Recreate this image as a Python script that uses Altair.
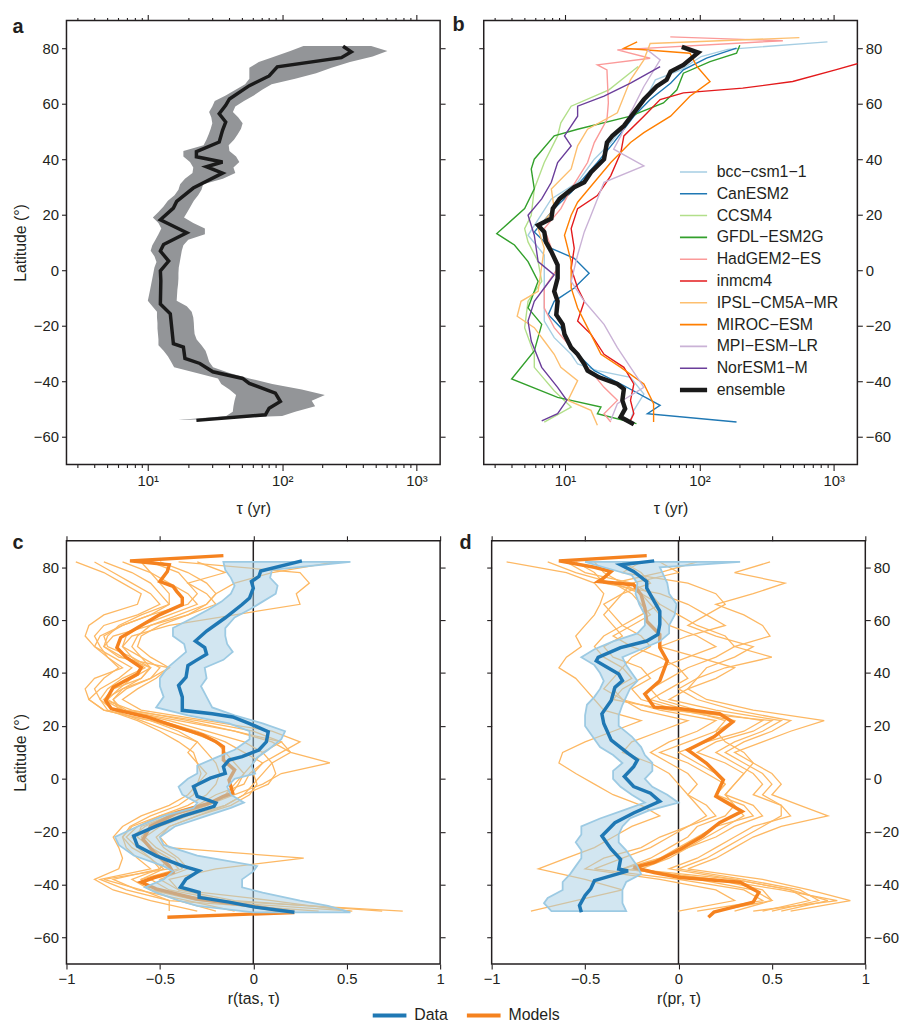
import altair as alt
import pandas as pd

FONT = "Liberation Sans"
INK = "#231f20"

LAT_DOMAIN = [-70, 90]
LAT_TICKS = [-60, -40, -20, 0, 20, 40, 60, 80]
TAU_DOMAIN = [2.48, 1500]
TAU_MAJOR = [10, 100, 1000]
TAU_MINOR = [3, 4, 5, 6, 7, 8, 9, 20, 30, 40, 50, 60, 70, 80, 90,
             200, 300, 400, 500, 600, 700, 800, 900]
R_DOMAIN = [-1, 1]
R_TICKS = [-1, -0.5, 0, 0.5, 1]

# ---- panel a: observed tau and its uncertainty band ----
A_LAT = [80.7, 78.7, 76.6, 73.3, 70.0, 66.5, 61.7, 59.4, 56.4, 53.4, 50.4, 46.2, 42.7, 40.9,
         39.0, 37.3, 35.0, 29.6, 24.8, 22.4, 18.2, 13.5, 9.3, 6.9, 3.3, -0.2, -3.8, -12.2,
         -15.7, -26.5, -27.7, -31.8, -33.6, -36.6, -39.0, -40.8, -44.3, -47.3, -49.7, -52.1, -54.1]
A_TAU = [284, 327, 276, 92, 80, 57, 40.5, 38, 34, 38, 36, 34, 23, 23,
         36, 27.3, 36, 21.8, 16.4, 15.5, 12.4, 19.5, 13.1, 12.4, 14.3, 12.4, 12.5, 12.4,
         14.7, 15.5, 18.4, 18.9, 24.4, 30.5, 50.8, 56.9, 89, 97, 80, 75, 23]
A_BAND_LAT = [80.8, 79, 77, 75, 73, 71, 69, 67, 65, 63, 61, 59, 57, 55, 53, 51, 49, 47, 45, 43,
              41, 39, 37, 35, 33, 31, 29, 27, 25, 23, 21, 19, 17, 15, 13, 11, 9, 7, 5, 3,
              1, -1, -3, -5, -7, -9, -11, -13, -15, -17, -19, -21, -23, -25, -27, -29, -31, -33,
              -35, -37, -39, -41, -43, -45, -47, -49, -51, -52.5, -54]
A_BAND_LO = [144, 115, 88, 67, 57, 57, 57, 53, 45, 38, 31.5, 30.2, 28.6, 29.7, 30.2, 29.4, 28.4,
             27.3, 26.0, 18.4, 18.4, 20.6, 21.8, 21.5, 18.9, 17.4, 16.9, 15.8, 14.1, 13.1, 12.0,
             10.9, 12.0, 12.6, 12.0, 11.4, 10.8, 10.5, 11.2, 11.6, 11.2, 11.0, 10.8, 10.6, 10.4,
             10.2, 10.0, 10.8, 11.7, 11.7, 11.8, 11.8, 11.9, 12.0, 12.0, 13.1, 14.1, 14.9, 15.7,
             23.1, 33.3, 35.2, 40.5, 45.4, 44.2, 43.4, 42.9, 38.3, 16.9]
A_BAND_HI = [460, 608, 472, 320, 233, 179, 125, 83.5, 71, 61.5, 52, 44.8, 43, 47.2, 50.8, 49.4,
             46.7, 43.8, 40, 40.5, 45.4, 48, 43.4, 44.8, 36.2, 25.8, 25.1, 23.7, 22.0, 20.8, 19.7,
             18.6, 21.8, 26.6, 26.6, 20.0, 18.4, 17.9, 17.6, 17.3, 17.0, 16.9, 16.9, 16.8, 16.6,
             16.5, 16.4, 19.5, 21.2, 21.8, 22.0, 22.1, 22.3, 23.1, 25.1, 26.9, 27.8, 28.6, 30.6,
             40.5, 56.9, 84.4, 140, 208, 166, 176, 125, 100, 18.4]

# ---- panel b: tau in each model ----
B_NAMES = ["bcc−csm1−1", "CanESM2", "CCSM4", "GFDL−ESM2G", "HadGEM2−ES", "inmcm4",
           "IPSL−CM5A−MR", "MIROC−ESM", "MPI−ESM−LR", "NorESM1−M", "ensemble"]
B_COLORS = ["#a6cee3", "#1f78b4", "#b2df8a", "#33a02c", "#fb9a99", "#e31a1c",
            "#fdbf6f", "#ff7f00", "#cab2d6", "#6a3d9a", "#1a1a1a"]

BCC_LAT = [82.3, 79.6, 77.0, 72.2, 68.6, 61.5, 55.5, 46.0, 40.0, 31.7, 25.7, 19.8, 12.6, 5.5,
           -1.7, -11.2, -18.3, -24.3, -30.3, -33.8, -36.2, -38.6, -44.6, -50.5, -54.1]
BCC_TAU = [898, 163, 103, 73, 47, 39.5, 31, 22, 16.5, 12.4, 7.9, 6.6, 5.3, 7.0,
           7.0, 7.0, 7.0, 8.3, 11.1, 12.4, 17.4, 30.7, 38.6, 32.5, 30.7]
CAN_LAT = [80.0, 76.4, 72.2, 67.4, 61.5, 55.5, 46.0, 38.8, 28.1, 22.2, 13.8, 7.9, 4.3, -1.1,
           -6.4, -11.2, -16.0, -20.7, -27.9, -36.2, -41.0, -48.7, -51.7, -54.7]
CAN_TAU = [189, 113, 76, 61, 43, 32.5, 23, 17.4, 11.1, 8.3, 5.9, 7.9, 11.7, 15.1,
           11.7, 8.3, 7.5, 9.3, 11.1, 16.5, 26, 51, 41, 189]
CCSM_LAT = [73.4, 65.0, 59.1, 53.1, 48.4, 38.8, 29.3, 19.8, 15.0, 10.2, 3.1, -4.0, -11.2,
            -20.7, -30.3, -35.0, -43.4, -49.3, -54.7]
CCSM_TAU = [35, 21.2, 11.1, 9.3, 8.8, 7.0, 5.9, 5.6, 5.0, 5.3, 6.3, 6.7, 5.3,
            5.0, 5.9, 5.9, 8.3, 11.1, 7.0]
GFDL_LAT = [81.1, 78.2, 75.2, 71.0, 65.0, 60.3, 55.5, 50.8, 48.4, 40.0, 36.5, 29.3, 22.2, 13.2,
            9.1, 3.1, -4.0, -13.6, -19.5, -29.1, -39.2, -45.8, -49.3, -51.7, -55.3]
GFDL_TAU = [200, 189, 120, 76, 68, 54, 30.7, 12.4, 8.3, 5.9, 5.6, 5.9, 5.0, 3.1,
            4.2, 5.3, 6.3, 5.3, 6.7, 5.9, 4.0, 8.8, 18.5, 17.4, 34]
HAD_LAT = [84.1, 82.7, 79.4, 76.4, 74.0, 72.2, 60.3, 54.3, 46.0, 38.8, 29.3, 22.2, 15.0, 7.9,
           0.7, -6.4, -13.6, -20.7, -27.9, -35.0, -42.2, -46.9, -51.7, -54.7]
HAD_TAU = [60.7, 418, 24.5, 43, 17.4, 20.5, 21, 20.5, 16.5, 14.7, 11.1, 9.3, 7.0, 7.9,
           8.8, 7.0, 7.0, 8.3, 11.1, 14.7, 19.5, 24.5, 19.5, 21.9]
INM_LAT = [74.6, 72.2, 68.0, 65.6, 63.9, 61.5, 55.5, 48.4, 42.4, 34.1, 26.9, 22.2, 15.0, 7.9,
           0.7, -6.4, -11.2, -18.3, -23.1, -30.3, -35.0, -41.0, -46.9, -51.7, -54.1]
INM_TAU = [1540, 1030, 495, 210, 76, 51, 38.6, 27.4, 26, 21.9, 17.4, 12.4, 11.1, 11.7,
           11.1, 12.4, 13.9, 12.4, 15.6, 19.5, 27.4, 32.5, 30.7, 32.5, 30.7]
IPSL_LAT = [83.8, 81.7, 75.8, 68.6, 56.7, 50.8, 44.8, 36.5, 29.3, 22.2, 15.0, 7.9, -7.6,
            -11.2, -16.6, -20.7, -25.5, -30.3, -35.0, -39.8, -46.9, -50.5, -55.9]
IPSL_TAU = [555, 43, 38.6, 30.7, 24.5, 14.7, 12.4, 11.1, 7.9, 8.3, 6.3, 7.0, 6.3,
            4.7, 4.4, 5.9, 7.0, 8.3, 9.3, 12.4, 10.5, 15.6, 17.4]
MIROC_LAT = [82.3, 80.0, 78.2, 73.4, 68.0, 62.7, 55.5, 49.6, 46.0, 38.8, 31.7, 24.5, 19.8,
             12.6, 3.1, -6.4, -13.6, -20.7, -30.3, -35.0, -41.0, -48.1, -54.7]
MIROC_TAU = [34.4, 27.4, 85, 96, 120, 85, 61, 38.6, 30.7, 21.9, 16.5, 12.4, 11.1,
             9.9, 11.1, 11.1, 12.4, 14.7, 18.5, 26, 38.6, 45.6, 45.6]
MPI_LAT = [79.4, 75.8, 66.2, 56.7, 48.4, 43.6, 37.6, 31.7, 19.8, 13.8, 5.5, -4.0, -11.2,
           -19.5, -27.9, -35.0, -42.2, -48.1, -54.1]
MPI_TAU = [41, 51, 38.6, 30.7, 26, 23, 38.6, 19.5, 15.6, 13.9, 12.4, 11.1, 13.9,
           19.5, 24.5, 30.7, 38.6, 24.5, 21.9]
NOR_LAT = [73.4, 67.4, 62.7, 59.1, 55.5, 48.4, 44.8, 38.8, 31.7, 25.7, 19.8, 12.6, 3.1, -1.7,
           -6.4, -11.2, -18.3, -25.5, -35.0, -42.2, -46.9, -51.7, -54.3]
NOR_TAU = [51, 30.7, 19.5, 12.4, 12.4, 9.9, 11.1, 8.8, 7.9, 6.7, 5.3, 5.9, 6.3, 8.3,
           7.0, 5.9, 5.3, 5.6, 6.7, 8.8, 10.3, 8.8, 6.7]
ENS_LAT = [80.5, 78.4, 74.0, 71.6, 68.6, 66.2, 61.5, 56.7, 52.0, 48.4, 46.0, 40.0, 35.3, 31.7,
           29.9, 25.7, 22.2, 18.6, 16.2, 13.8, 10.2, 6.7, 1.9, -2.9, -7.6, -11.2, -16.0, -19.5,
           -23.1, -27.9, -30.3, -33.8, -36.2, -38.6, -41.0, -42.8, -46.9, -49.9, -52.9, -55.5]
ENS_TAU = [74, 98, 76, 61, 57, 48, 38.6, 32.5, 27.4, 22.5, 20.5, 19.5, 15.6, 13.9,
           11.7, 9.1, 8.1, 7.9, 6.3, 7.0, 7.2, 7.9, 8.8, 8.8, 8.3, 8.8, 8.6, 9.6,
           9.9, 11.1, 12.4, 13.9, 14.7, 17.9, 24.5, 27.4, 26.7, 28, 25.9, 32.5]

B_SERIES = [(BCC_LAT, BCC_TAU), (CAN_LAT, CAN_TAU), (CCSM_LAT, CCSM_TAU), (GFDL_LAT, GFDL_TAU),
            (HAD_LAT, HAD_TAU), (INM_LAT, INM_TAU), (IPSL_LAT, IPSL_TAU), (MIROC_LAT, MIROC_TAU),
            (MPI_LAT, MPI_TAU), (NOR_LAT, NOR_TAU), (ENS_LAT, ENS_TAU)]

# ---- panel c: r(tas, tau) ----
C_DATA_LAT = [82.4, 78.6, 76.5, 74.6, 72.1, 68.4, 65.9, 60.9, 55.9, 52.1, 49.6, 47.1, 44.6, 42.8,
              38.4, 35.3, 30.9, 25.9, 24.6, 23.4, 20.9, 17.8, 14.0, 10.9, 8.4, 7.1, 4.6, 2.1,
              0.25, -2.9, -6.6, -9.1, -10.4, -14.1, -17.9, -21.6, -25.4, -29.1, -32.9, -34.8,
              -37.9, -41.0, -42.9, -44.8, -46.6, -48.5, -50.4]
C_DATA_R = [0.26, 0.04, 0.03, -0.01, 0.00, -0.02, -0.06, -0.15, -0.25, -0.31, -0.26, -0.25, -0.31,
            -0.35, -0.36, -0.40, -0.38, -0.38, -0.22, -0.11, -0.02, 0.08, 0.07, 0.03, -0.06, -0.13,
            -0.16, -0.15, -0.23, -0.32, -0.30, -0.20, -0.21, -0.38, -0.52, -0.64, -0.62, -0.52,
            -0.38, -0.29, -0.36, -0.39, -0.29, -0.29, -0.13, 0.01, 0.22]
C_BAND_LAT = [82, 79, 76, 73, 70, 67, 64, 61, 57, 54, 51, 48, 45, 42, 38, 35, 31, 27, 24, 21, 18,
              15, 11, 8, 5, 2, 0, -3, -6, -9, -11, -14, -18, -22, -25, -29, -33, -35, -38, -41,
              -43, -46, -48, -50.5]
C_BAND_LO = [-0.16, -0.15, -0.12, -0.10, -0.12, -0.17, -0.24, -0.32, -0.43, -0.43, -0.37, -0.36,
             -0.41, -0.46, -0.50, -0.50, -0.48, -0.52, -0.35, -0.13, -0.02, -0.02, -0.10, -0.20,
             -0.30, -0.30, -0.35, -0.40, -0.38, -0.30, -0.32, -0.48, -0.62, -0.74, -0.72, -0.64,
             -0.48, -0.43, -0.48, -0.58, -0.52, -0.40, -0.30, 0.0]
C_BAND_HI = [0.52, 0.10, 0.09, 0.13, 0.12, 0.05, -0.02, -0.10, -0.15, -0.15, -0.14, -0.11, -0.16,
             -0.26, -0.25, -0.28, -0.25, -0.22, -0.10, 0.05, 0.17, 0.15, 0.08, 0.02, -0.01, 0.01,
             -0.10, -0.14, -0.12, -0.05, -0.12, -0.25, -0.42, -0.50, -0.48, -0.30, 0.02, 0.00,
             -0.06, -0.06, 0.05, 0.25, 0.40, 0.52]
C_MEAN_LAT = [84.4, 82.4, 80.9, 78.4, 74.6, 72.8, 70.9, 68.4, 65.9, 62.1, 57.1, 53.4, 49.6, 45.9,
              42.1, 39.6, 34.6, 29.6, 26.5, 23.4, 19.0, 16.5, 14.0, 12.1, 7.1, 3.4, -0.4, -5.4,
              -6.6, -9.1, -12.9, -17.9, -22.9, -27.9, -32.9, -35.4, -37.3, -39.1, -41.6, -45.4,
              -48.0, -50.5, -52.3]
C_MEAN_R = [-0.16, -0.66, -0.45, -0.46, -0.50, -0.43, -0.41, -0.38, -0.38, -0.50, -0.62, -0.71,
            -0.73, -0.68, -0.60, -0.62, -0.75, -0.79, -0.76, -0.57, -0.38, -0.27, -0.20, -0.16,
            -0.16, -0.10, -0.13, -0.11, -0.16, -0.23, -0.41, -0.55, -0.59, -0.53, -0.45, -0.43,
            -0.53, -0.60, -0.52, -0.30, -0.02, 0.22, -0.46]

THIN_LAT = [82, 78, 74, 70, 66, 62, 58, 54, 50, 46, 42, 38, 34, 30, 26, 22, 18, 14, 10, 6,
            2, -2, -6, -10, -14, -18, -22, -26, -30, -34, -38, -42, -46, -50]
C_THIN_1 = [-0.95, -0.80, -0.70, -0.60, -0.62, -0.80, -0.88, -0.90, -0.85, -0.78,
            -0.70, -0.85, -0.90, -0.88, -0.80, -0.55, -0.40, -0.30, -0.35, -0.30,
            -0.25, -0.30, -0.35, -0.45, -0.60, -0.70, -0.75, -0.72, -0.70, -0.72,
            -0.85, -0.75, -0.55, -0.30]
C_THIN_2 = [0.44, 0.10, -0.10, -0.20, -0.25, -0.35, -0.55, -0.75, -0.80, -0.70,
            -0.55, -0.60, -0.70, -0.75, -0.70, -0.45, -0.25, -0.05, 0.05, 0.00,
            -0.05, -0.10, -0.15, -0.25, -0.45, -0.60, -0.62, -0.55, -0.45, -0.40,
            -0.60, -0.55, -0.20, 0.80]
C_THIN_3 = [-0.40, 0.25, 0.30, 0.23, 0.25, -0.10, -0.45, -0.65, -0.70, -0.60,
            -0.50, -0.55, -0.70, -0.80, -0.65, -0.35, -0.10, 0.15, 0.20, 0.10,
            0.05, 0.00, -0.05, -0.15, -0.30, -0.45, -0.50, -0.45, 0.27, -0.20,
            -0.45, -0.40, -0.10, 0.69]
C_THIN_4 = [-0.60, -0.55, -0.50, -0.45, -0.45, -0.55, -0.70, -0.80, -0.78, -0.65,
            -0.55, -0.60, -0.75, -0.80, -0.70, -0.40, -0.10, 0.10, 0.20, 0.41,
            0.15, 0.05, -0.10, -0.25, -0.40, -0.55, -0.60, -0.55, -0.45, -0.50,
            -0.65, -0.55, -0.30, 0.53]
C_THIN_5 = [-0.70, -0.55, -0.45, -0.35, -0.30, -0.45, -0.60, -0.68, -0.70, -0.65,
            -0.58, -0.70, -0.78, -0.82, -0.75, -0.60, -0.45, -0.30, -0.25, -0.20,
            -0.18, -0.20, -0.25, -0.35, -0.50, -0.62, -0.68, -0.62, -0.55, -0.50,
            -0.75, -0.62, -0.35, -0.10]
C_THIN_6 = [-0.55, -0.40, -0.35, -0.30, -0.35, -0.55, -0.70, -0.82, -0.85, -0.75,
            -0.65, -0.72, -0.82, -0.88, -0.80, -0.55, -0.35, -0.20, -0.15, -0.10,
            -0.05, -0.08, -0.12, -0.25, -0.45, -0.58, -0.65, -0.60, -0.50, -0.45,
            -0.80, -0.60, -0.45, 0.35]
C_THIN_7 = [-0.80, -0.65, -0.55, -0.50, -0.45, -0.60, -0.72, -0.78, -0.80, -0.72,
            -0.45, -0.55, -0.68, -0.75, -0.72, -0.50, -0.30, -0.15, -0.05, 0.05,
            -0.02, -0.05, -0.20, -0.30, -0.50, -0.65, -0.70, -0.65, -0.55, -0.48,
            -0.60, -0.55, -0.40, -0.20]
C_THIN_8 = [-0.50, -0.35, -0.25, -0.20, -0.25, -0.40, -0.55, -0.62, -0.65, -0.60,
            -0.55, -0.65, -0.72, -0.78, -0.68, -0.30, 0.00, 0.15, 0.05, 0.10,
            0.12, 0.08, -0.05, -0.15, -0.35, -0.50, -0.58, -0.52, -0.42, -0.38,
            -0.55, -0.45, -0.15, 0.20]
C_THIN_9 = [-0.85, -0.75, -0.65, -0.55, -0.50, -0.62, -0.80, -0.85, -0.82, -0.78,
            -0.72, -0.80, -0.85, -0.82, -0.78, -0.62, -0.50, -0.40, -0.32, -0.30,
            -0.28, -0.30, -0.32, -0.40, -0.55, -0.66, -0.70, -0.68, -0.62, -0.55,
            -0.82, -0.68, -0.45, -0.45]
C_THIN_10 = [-0.30, -0.15, -0.35, -0.25, -0.20, -0.35, -0.50, -0.60, -0.62, -0.55,
             -0.45, -0.52, -0.62, -0.70, -0.60, -0.25, 0.10, 0.25, 0.15, 0.05,
             0.00, 0.02, -0.02, -0.12, -0.30, -0.45, -0.52, -0.48, -0.40, -0.35,
             -0.50, -0.40, 0.10, 0.52]
C_THIN = [C_THIN_1, C_THIN_2, C_THIN_3, C_THIN_4, C_THIN_5,
          C_THIN_6, C_THIN_7, C_THIN_8, C_THIN_9, C_THIN_10]

# ---- panel d: r(pr, tau) ----
D_DATA_LAT = [82.4, 80.9, 78.4, 74.6, 72.1, 67.1, 63.4, 58.4, 54.6, 52.1, 49.6, 45.9, 44.6, 42.1,
              39.6, 37.1, 34.6, 29.6, 24.6, 20.9, 14.6, 9.6, 7.1, 4.6, 0.9, -2.9, -5.4, -8.5,
              -12.9, -16.6, -21.6, -26.6, -30.4, -34.1, -34.8, -38.5, -41.6, -44.1, -47.9, -50.4]
D_DATA_R = [-0.13, -0.31, -0.24, -0.17, -0.17, -0.13, -0.10, -0.10, -0.11, -0.17, -0.31, -0.43,
            -0.44, -0.38, -0.32, -0.30, -0.34, -0.36, -0.41, -0.40, -0.36, -0.27, -0.22, -0.24,
            -0.29, -0.24, -0.15, -0.10, -0.24, -0.34, -0.41, -0.36, -0.31, -0.32, -0.27, -0.45,
            -0.47, -0.50, -0.53, -0.52]
D_BAND_LAT = [82, 80, 77, 74, 70, 66, 62, 58, 55, 52, 49, 46, 43, 40, 37, 34, 31, 28, 24, 20, 16,
              12, 9, 6, 3, 0, -3, -6, -9, -12, -15, -18, -21, -24, -27, -30, -33, -36, -39, -42,
              -45, -47, -50]
D_BAND_LO = [-0.50, -0.40, -0.25, -0.22, -0.23, -0.21, -0.18, -0.18, -0.22, -0.35, -0.45, -0.52,
             -0.45, -0.42, -0.40, -0.42, -0.45, -0.49, -0.50, -0.50, -0.46, -0.42, -0.35, -0.30,
             -0.35, -0.35, -0.31, -0.25, -0.18, -0.30, -0.42, -0.52, -0.52, -0.55, -0.52, -0.52,
             -0.55, -0.58, -0.62, -0.62, -0.70, -0.72, -0.68]
D_BAND_HI = [0.33, -0.10, -0.08, -0.06, -0.05, -0.01, -0.02, -0.05, -0.05, -0.10, -0.20, -0.30,
             -0.28, -0.25, -0.22, -0.26, -0.28, -0.30, -0.32, -0.32, -0.25, -0.20, -0.18, -0.14,
             -0.14, -0.18, -0.14, -0.06, 0.00, -0.16, -0.26, -0.30, -0.32, -0.32, -0.28, -0.25,
             -0.22, -0.20, -0.28, -0.30, -0.30, -0.30, -0.28]
D_MEAN_LAT = [84.4, 82.4, 80.0, 78.4, 76.0, 74.6, 73.4, 69.6, 64.6, 59.6, 54.6, 49.6, 44.6, 37.1,
              32.1, 27.1, 26.5, 24.6, 21.5, 15.9, 10.9, 5.9, -0.4, -6.6, -12.3, -16.6, -21.6,
              -26.6, -31.6, -33.5, -35.4, -37.3, -39.1, -42.9, -46.6, -50.4, -52.3]
D_MEAN_R = [-0.17, -0.64, -0.45, -0.36, -0.40, -0.43, -0.24, -0.20, -0.18, -0.17, -0.10, -0.10,
            -0.06, -0.10, -0.18, -0.13, 0.01, 0.22, 0.29, 0.19, 0.05, 0.15, 0.24, 0.20, 0.34,
            0.22, 0.13, 0.01, -0.13, -0.24, -0.13, 0.01, 0.33, 0.43, 0.40, 0.19, 0.16]
D_THIN_1 = [-0.92, -0.60, -0.45, -0.40, -0.42, -0.45, -0.50, -0.55, -0.52, -0.60,
            -0.64, -0.55, -0.50, -0.45, -0.40, -0.20, -0.35, -0.50, -0.62, -0.64,
            -0.55, -0.45, -0.35, -0.20, -0.10, -0.25, -0.35, -0.45, -0.60, -0.75,
            -0.50, -0.30, -0.55, -0.79]
D_THIN_2 = [0.49, 0.30, 0.57, 0.40, 0.20, 0.35, 0.45, 0.49, 0.30, 0.50,
            0.25, 0.10, 0.05, 0.15, 0.40, 0.78, 0.60, 0.45, 0.30, 0.40,
            0.50, 0.55, 0.50, 0.65, 0.80, 0.55, 0.40, 0.30, 0.20, 0.05,
            0.45, 0.70, 0.92, 0.60]
D_THIN_3 = [-0.45, -0.40, -0.30, -0.20, -0.15, -0.10, -0.05, 0.10, 0.20, 0.05,
            -0.10, -0.20, -0.30, -0.35, -0.05, 0.50, 0.40, 0.20, 0.10, 0.25,
            0.35, 0.30, 0.25, 0.40, 0.45, 0.30, 0.20, 0.05, -0.10, -0.30,
            0.20, 0.55, 0.85, 0.40]
D_THIN_4 = [-0.30, -0.20, -0.15, -0.30, -0.40, -0.35, -0.30, -0.20, -0.15, -0.25,
            -0.30, -0.25, -0.35, -0.30, -0.10, 0.20, 0.10, -0.05, -0.15, -0.05,
            0.05, 0.10, 0.05, 0.15, 0.20, 0.05, -0.05, -0.15, -0.30, -0.45,
            0.00, 0.35, 0.45, 0.10]
D_THIN_5 = [-0.70, -0.55, -0.35, -0.20, -0.10, 0.00, 0.10, 0.25, 0.30, 0.20,
            0.05, -0.05, -0.15, -0.10, 0.10, 0.45, 0.35, 0.15, 0.00, 0.10,
            0.20, 0.25, 0.20, 0.35, 0.40, 0.20, 0.10, 0.00, -0.10, -0.25,
            0.30, 0.60, 0.70, 0.45]
D_THIN_6 = [-0.10, 0.00, -0.25, -0.30, -0.35, -0.40, -0.35, -0.30, -0.40, -0.35,
            -0.20, -0.15, -0.25, -0.20, 0.00, 0.30, 0.20, 0.05, -0.10, 0.05,
            0.15, 0.25, 0.20, 0.30, 0.35, 0.25, 0.15, 0.05, -0.05, -0.20,
            0.10, 0.40, 0.50, 0.20]
D_THIN_7 = [-0.55, -0.45, -0.40, -0.10, 0.05, 0.15, 0.25, 0.05, -0.10, 0.10,
            0.30, 0.20, 0.05, -0.05, 0.20, 0.55, 0.45, 0.30, 0.20, 0.30,
            0.40, 0.45, 0.40, 0.55, 0.60, 0.40, 0.30, 0.20, 0.10, -0.05,
            0.30, 0.60, 0.80, 0.55]
D_THIN_8 = [0.10, -0.10, -0.35, -0.25, -0.20, -0.15, -0.25, -0.35, -0.25, -0.10,
            0.00, 0.05, -0.05, -0.15, 0.05, 0.25, 0.20, 0.25, 0.35, 0.40,
            0.35, 0.30, 0.25, 0.30, 0.25, 0.10, 0.05, -0.05, -0.15, -0.30,
            0.20, 0.45, 0.50, 0.30]
D_THIN_9 = [-0.60, -0.50, -0.25, -0.15, -0.10, -0.20, -0.30, -0.40, -0.45, -0.40,
            -0.30, -0.35, -0.40, -0.30, -0.20, 0.05, -0.10, -0.25, -0.30, -0.15,
            -0.05, 0.00, 0.05, 0.10, 0.15, 0.05, -0.10, -0.20, -0.40, -0.50,
            -0.10, 0.20, 0.30, 0.00]
D_THIN_10 = [-0.20, -0.30, 0.05, 0.20, 0.25, 0.15, 0.05, 0.20, 0.40, 0.30,
             0.15, 0.10, 0.00, 0.10, 0.30, 0.60, 0.50, 0.35, 0.25, 0.35,
             0.45, 0.50, 0.45, 0.55, 0.55, 0.45, 0.35, 0.25, 0.15, 0.00,
             0.35, 0.65, 0.75, 0.50]
D_THIN = [D_THIN_1, D_THIN_2, D_THIN_3, D_THIN_4, D_THIN_5,
          D_THIN_6, D_THIN_7, D_THIN_8, D_THIN_9, D_THIN_10]

SERIES = ["Data", "Models"]
SERIES_COLORS = ["#1f78b4", "#f5821f"]
THIN_COLOR = "#fdb863"
BAND_BLUE = "#a6cee3"

W = 377
H_TOP = 448
H_BOT = 427

LOG_LABELS = ("datum.value == 10 ? '10¹' : datum.value == 100 ? '10²' : "
              "datum.value == 1000 ? '10³' : ''")


def tau_x(field, orient="bottom", minor=False):
    labelled = orient == "bottom" and not minor
    if minor:
        axis = alt.Axis(orient=orient, values=TAU_MINOR, labels=False, tickSize=3, title=None)
    elif labelled:
        axis = alt.Axis(orient=orient, values=TAU_MAJOR, tickSize=6, labelExpr=LOG_LABELS,
                        labelFlush=False, labelOverlap=False, titlePadding=12, title="τ (yr)")
    else:
        axis = alt.Axis(orient=orient, values=TAU_MAJOR, labels=False, tickSize=6, title=None)
    return alt.X(field, scale=alt.Scale(type="log", domain=TAU_DOMAIN, nice=False), axis=axis)


def r_x(field, title, orient="bottom"):
    if orient == "bottom":
        axis = alt.Axis(orient=orient, values=R_TICKS, format=".1~f", labelFlush=False,
                        titlePadding=4, title=title)
    else:
        axis = alt.Axis(orient=orient, values=R_TICKS, labels=False, title=None)
    return alt.X(field, scale=alt.Scale(domain=R_DOMAIN, nice=False, zero=False), axis=axis)


def lat_y(orient, labels, show=True):
    title = "Latitude (°)" if (labels and orient == "left") else None
    axis = alt.Axis(orient=orient, values=LAT_TICKS, labels=labels,
                    titlePadding=5, title=title) if show else None
    return alt.Y("lat:Q", scale=alt.Scale(domain=LAT_DOMAIN, nice=False, zero=False),
                 axis=axis)


def frame(x_enc, y_enc, x_inside):
    # invisible point inside the plot that only carries extra (tick only) axes
    df = pd.DataFrame({"xv": [x_inside], "lat": [0]})
    return alt.Chart(df).mark_point(opacity=0, size=1).encode(x=x_enc, y=y_enc)


def panel_title(letter, dx, dy):
    return alt.TitleParams(letter, anchor="start", fontSize=20, fontWeight="bold",
                           font=FONT, color=INK, dx=dx, dy=dy)


def log_frames(other_side):
    return [frame(tau_x("xv:Q", "top"), lat_y(other_side, False), 10),
            frame(tau_x("xv:Q", "top", minor=True), lat_y("left", False, show=False), 10),
            frame(tau_x("xv:Q", "bottom", minor=True), lat_y("left", False, show=False), 10)]


# ---- panel a ----
a_line = pd.DataFrame({"lat": A_LAT, "tau": A_TAU, "i": range(len(A_LAT))})
a_band = pd.DataFrame({"lat": A_BAND_LAT, "lo": A_BAND_LO, "hi": A_BAND_HI})

a_area = alt.Chart(a_band).mark_area(orient="horizontal", color="#939598").encode(
    x=tau_x("lo:Q"), x2="hi:Q", y=lat_y("left", True))
a_mean = alt.Chart(a_line).mark_line(color="#1a1a1a", strokeWidth=3.5).encode(
    x=tau_x("tau:Q"), y=lat_y("left", True), order="i:Q")
panel_a = alt.layer(
    alt.layer(a_area, a_mean), *log_frames("right")
).resolve_scale(x="independent", y="independent").properties(
    width=W, height=H_TOP, title=panel_title("a", 0, 27))

# ---- panel b ----
rows = []
for name, (lats, taus) in zip(B_NAMES, B_SERIES):
    for i, (la, t) in enumerate(zip(lats, taus)):
        rows.append({"model": name, "lat": la, "tau": t, "i": i})
b_df = pd.DataFrame(rows)

b_legend = alt.Legend(orient="none", legendX=198, legendY=142, title=None,
                      symbolType="stroke", symbolSize=1500, labelOffset=21,
                      clipHeight=21.7, rowPadding=0,
                      symbolStrokeWidth={"expr": "datum && datum.value == 'ensemble' ? 4.5 : 1.6"},
                      labelFontSize=16, labelFont=FONT, labelColor=INK)
b_lines = alt.Chart(b_df).mark_line(clip=True, strokeWidth=1.4).encode(
    x=tau_x("tau:Q"), y=lat_y("right", True), order="i:Q",
    color=alt.Color("model:N", scale=alt.Scale(domain=B_NAMES, range=B_COLORS),
                    legend=b_legend))
b_ens = alt.Chart(b_df[b_df["model"] == "ensemble"]).mark_line(
    color="#1a1a1a", strokeWidth=4.5).encode(
    x=tau_x("tau:Q"), y=lat_y("right", True), order="i:Q")
panel_b = alt.layer(
    alt.layer(b_lines, b_ens), *log_frames("left")
).resolve_scale(x="independent", y="independent").properties(
    width=W, height=H_TOP, title=panel_title("b", -26, 25))


# ---- panels c and d ----
def corr_panel(data_lat, data_r, band_lat, band_lo, band_hi, mean_lat, mean_r, thin,
               title, side, letter, dx):
    y = lat_y(side, True)
    thin_rows = []
    for k, vals in enumerate(thin):
        for i, (la, v) in enumerate(zip(THIN_LAT, vals)):
            thin_rows.append({"run": k, "lat": la, "r": v, "i": i})
    thin_df = pd.DataFrame(thin_rows)
    data_df = pd.DataFrame({"lat": data_lat, "r": data_r, "i": range(len(data_lat))})
    mean_df = pd.DataFrame({"lat": mean_lat, "r": mean_r, "i": range(len(mean_lat))})
    band_df = pd.DataFrame({"lat": band_lat, "lo": band_lo, "hi": band_hi})
    zero_df = pd.DataFrame({"r": [0]})

    zero = alt.Chart(zero_df).mark_rule(color=INK, strokeWidth=1.5).encode(
        x=r_x("r:Q", title))
    runs = alt.Chart(thin_df).mark_line(color=THIN_COLOR, strokeWidth=1.3).encode(
        x=r_x("r:Q", title), y=y, detail="run:N", order="i:Q")
    mean = alt.Chart(mean_df).mark_line(strokeWidth=3.5, color=SERIES_COLORS[1]).encode(
        x=r_x("r:Q", title), y=y, order="i:Q")
    band = alt.Chart(band_df).mark_area(
        orient="horizontal", fill=BAND_BLUE, fillOpacity=0.5,
        stroke="#9ccae3", strokeWidth=1.8).encode(
        x=r_x("lo:Q", title), x2="hi:Q", y=y)
    data = alt.Chart(data_df).mark_line(strokeWidth=3.5, color=SERIES_COLORS[0]).encode(
        x=r_x("r:Q", title), y=y, order="i:Q")
    other = "right" if side == "left" else "left"
    return alt.layer(
        alt.layer(zero, runs, mean, band, data),
        frame(r_x("xv:Q", title, "top"), lat_y(other, False), 0),
    ).resolve_scale(x="independent", y="independent").properties(
        width=W, height=H_BOT, title=panel_title(letter, dx, 22))


panel_c = corr_panel(C_DATA_LAT, C_DATA_R, C_BAND_LAT, C_BAND_LO, C_BAND_HI,
                     C_MEAN_LAT, C_MEAN_R, C_THIN, "r(tas, τ)", "left", "c", 0)
panel_d = corr_panel(D_DATA_LAT, D_DATA_R, D_BAND_LAT, D_BAND_LO, D_BAND_HI,
                     D_MEAN_LAT, D_MEAN_R, D_THIN, "r(pr, τ)", "right", "d", -24)

# ---- shared legend for c and d, on a row of its own ----
key_df = pd.DataFrame({"series": SERIES, "k": [0, 1]})
key = alt.Chart(key_df).mark_line().transform_filter("datum.k > 5").encode(
    x=alt.X("k:Q", axis=None), y=alt.Y("k:Q", axis=None),
    color=alt.Color("series:N", scale=alt.Scale(domain=SERIES, range=SERIES_COLORS),
                    legend=alt.Legend(orient="none", legendX=307, legendY=-4,
                                      direction="horizontal", title=None,
                                      symbolType="stroke", symbolSize=1156,
                                      symbolStrokeWidth=4, labelOffset=6, clipHeight=16,
                                      columnPadding=17, labelFontSize=16,
                                      labelFont=FONT, labelColor=INK))
).properties(width=W, height=1, view=alt.ViewBackground(strokeOpacity=0))

top = alt.hconcat(panel_a, panel_b, spacing=4).resolve_scale(color="independent")
bottom = alt.hconcat(panel_c, panel_d, spacing=11)

chart = alt.vconcat(
    alt.vconcat(top, bottom, spacing=15), key, spacing=0
).resolve_scale(
    color="independent"
).properties(
    padding={"left": 3, "top": 0, "right": 0, "bottom": 0}
).configure_view(
    stroke=INK, strokeWidth=1.5
).configure_axis(
    labelFont=FONT, titleFont=FONT, labelFontSize=15, titleFontSize=16,
    titleFontWeight="normal", labelColor=INK, titleColor=INK, tickColor=INK,
    tickWidth=1.1, tickSize=5, labelPadding=3, domain=False, grid=False
).configure_legend(
    labelFont=FONT, labelFontSize=16, labelColor=INK
)

chart.save("out.html", embed_options={"renderer": "svg", "actions": False})
